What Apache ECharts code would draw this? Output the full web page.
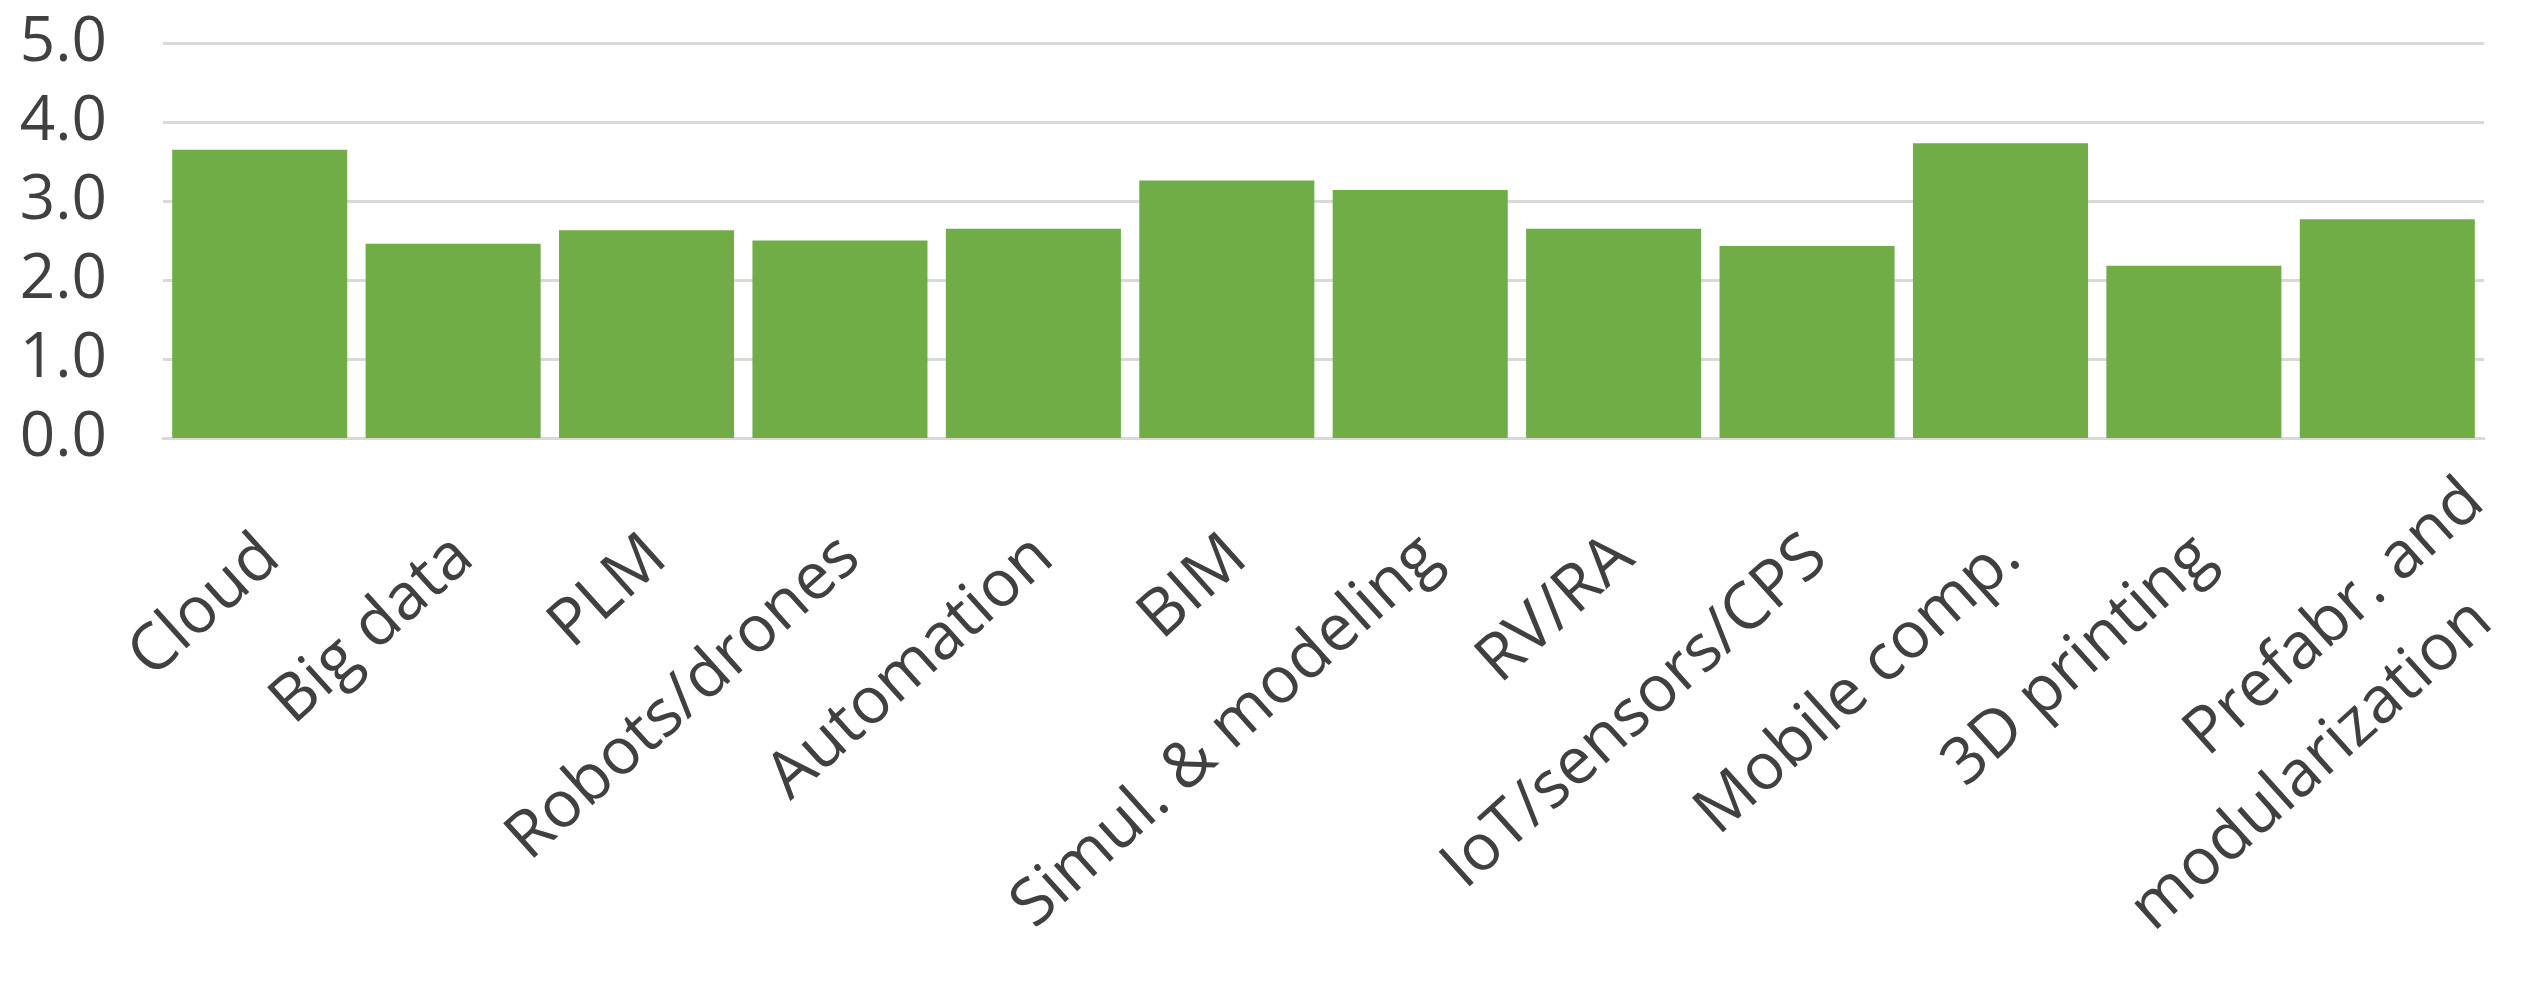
<!DOCTYPE html>
<html>
<head>
<meta charset="utf-8">
<script src="https://cdn.jsdelivr.net/npm/echarts@6/dist/echarts.min.js"></script>
<style>
html,body{margin:0;padding:0;background:#fff;}
#main{width:2534px;height:982px;}
</style>
</head>
<body>
<div id="main"></div>
<script>
const categories = ['Cloud','Big data','PLM','Robots/drones','Automation','BIM','Simul. & modeling','RV/RA','IoT/sensors/CPS','Mobile comp.','3D printing','Prefabr. and\nmodularization'];
const values = [3.65, 2.46, 2.63, 2.50, 2.65, 3.26, 3.14, 2.65, 2.43, 3.73, 2.18, 2.77];
const yTicks = [0, 1, 2, 3, 4, 5];

const font = '"Open Sans", "Noto Sans", sans-serif';
const textColor = '#404040';
const xFontSize = 65;
const multiLineStyle = {align: 'center', verticalAlign: 'middle', padding: [146, 345, 0, 0]};
const xData = categories.map(function (c) {
  return c.indexOf('\n') >= 0 ? {value: c, textStyle: multiLineStyle} : c;
});

const chart = echarts.init(document.getElementById('main'), null, {renderer: 'canvas'});
chart.setOption({
  animation: false,
  backgroundColor: '#ffffff',
  grid: {left: 163, right: 50, top: 43, bottom: 544, containLabel: false, outerBoundsMode: 'none'},
  xAxis: {
    type: 'category',
    data: xData,
    axisLine: {show: true, lineStyle: {color: '#d9d9d9', width: 3}},
    axisTick: {show: false},
    axisLabel: {
      interval: 0,
      rotate: 42,
      margin: 98,
      verticalAlign: 'middle',
      padding: [32, 0, 0, 0],
      fontFamily: font,
      fontSize: xFontSize,
      color: textColor,
      formatter: function (v) {
        const lines = v.split('\n');
        if (lines.length === 1) return '{c|' + v + '}';
        return lines.map(function (s, i) { return (i === 0 ? '{a|' : '{b|') + s + '}'; }).join('\n');
      },
      rich: {
        c: {fontFamily: font, fontSize: xFontSize, color: textColor, lineHeight: 86},
        a: {fontFamily: font, fontSize: xFontSize, color: textColor, lineHeight: 94, align: 'right'},
        b: {fontFamily: font, fontSize: xFontSize, color: textColor, lineHeight: 94, align: 'right', padding: [0, 74, 0, 0]}
      }
    }
  },
  yAxis: {
    type: 'value',
    min: yTicks[0],
    max: yTicks[yTicks.length - 1],
    interval: 1,
    axisLine: {show: false},
    axisTick: {show: false},
    splitLine: {lineStyle: {color: '#d9d9d9', width: 3}},
    axisLabel: {
      margin: 56,
      fontFamily: font,
      fontSize: 62,
      color: textColor,
      formatter: function (v) { return v.toFixed(1); }
    }
  },
  series: [{
    type: 'bar',
    data: values,
    barCategoryGap: '9.5%',
    itemStyle: {color: '#70ad47'}
  }]
});
</script>
</body>
</html>
